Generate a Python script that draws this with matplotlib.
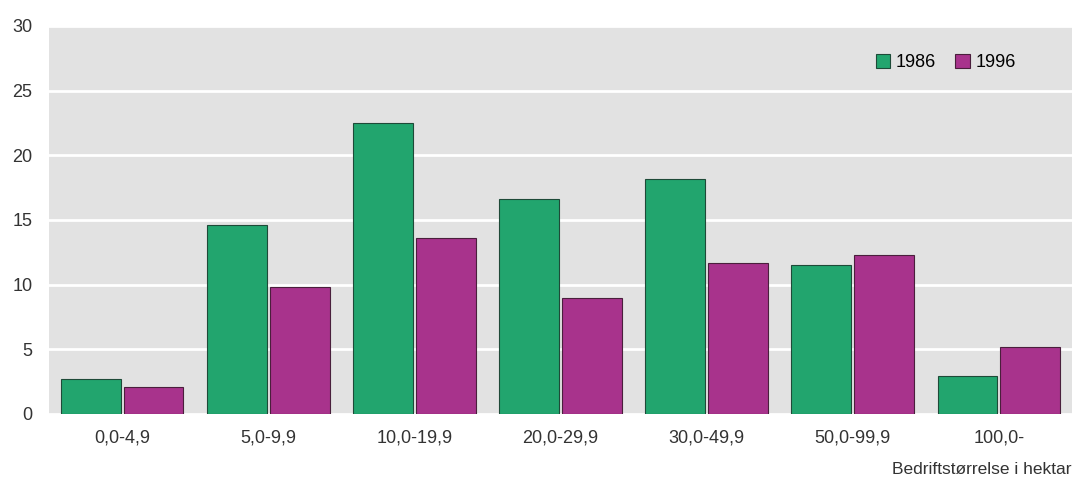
import numpy as np
import matplotlib.pyplot as plt

categories = ['0,0-4,9', '5,0-9,9', '10,0-19,9', '20,0-29,9', '30,0-49,9', '50,0-99,9', '100,0-']
y1986 = [2.7, 14.6, 22.5, 16.6, 18.2, 11.5, 2.9]
y1996 = [2.1, 9.8, 13.6, 9.0, 11.7, 12.3, 5.2]
yticks = [0, 5, 10, 15, 20, 25, 30]

green = '#22a56e'
magenta = '#a8338c'

plt.rcParams['font.family'] = ['Liberation Sans', 'DejaVu Sans']

fig = plt.figure(figsize=(10.77, 4.84), dpi=100)
ax = fig.add_axes([49/1077, 1-414/484, (1072-49)/1077, (414-26)/484])
ax.set_facecolor('#e2e2e2')

x = np.arange(len(categories))
w = 0.41
ax.bar(x - 0.215, y1986, w, color=green, edgecolor='#1e4a38', linewidth=0.8, label='1986', zorder=3)
ax.bar(x + 0.215, y1996, w, color=magenta, edgecolor='#4a1f3c', linewidth=0.8, label='1996', zorder=3)

ax.set_xlim(-0.5, 6.5)
ax.set_ylim(0, 30)
ax.set_yticks(yticks)
ax.set_yticklabels([str(t) for t in yticks], fontsize=13, color='#333333')
ax.set_xticks(x)
ax.set_xticklabels(categories, fontsize=13, color='#333333')
ax.tick_params(axis='both', length=0)
ax.tick_params(axis='y', pad=12)
ax.tick_params(axis='x', pad=11)
ax.yaxis.grid(True, color='white', linewidth=2, zorder=1)
for s in ax.spines.values():
    s.set_visible(False)

leg = ax.legend(loc='center right', bbox_to_anchor=(0.945, 0.905), frameon=False, ncol=2,
                fontsize=13, handlelength=0.8, handleheight=0.8, handletextpad=0.3,
                columnspacing=1.1, borderpad=0, borderaxespad=0)

fig.text(1072/1077, 1-470/484, 'Bedriftstørrelse i hektar', ha='right', va='center',
         fontsize=12.5, color='#333333')

plt.savefig('out.png')
